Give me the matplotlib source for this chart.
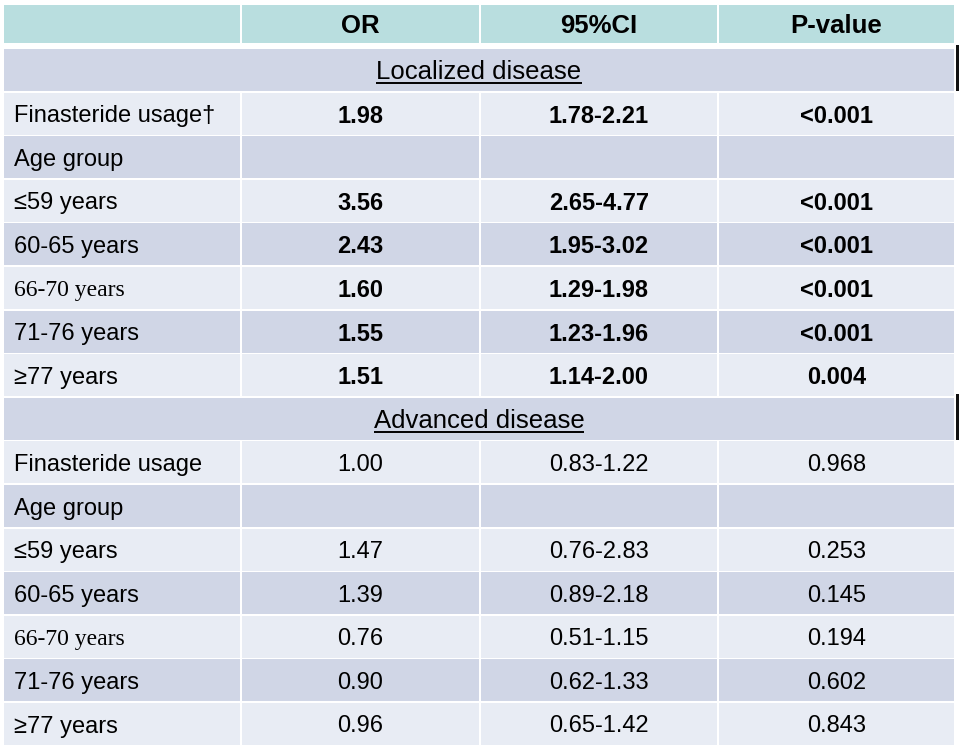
import matplotlib
matplotlib.use("Agg")
import matplotlib.pyplot as plt
from matplotlib.patches import Rectangle

# ---- data ----
headers = ["", "OR", "95%CI", "P-value"]
sections = ["Localized disease", "Advanced disease"]
row_labels = ["Finasteride usage\u2020", "Age group", "\u226459 years", "60-65 years",
              "66-70 years", "71-76 years", "\u226577 years"]
row_labels_adv = ["Finasteride usage", "Age group", "\u226459 years", "60-65 years",
                  "66-70 years", "71-76 years", "\u226577 years"]
or_loc = ["1.98", "", "3.56", "2.43", "1.60", "1.55", "1.51"]
ci_loc = ["1.78-2.21", "", "2.65-4.77", "1.95-3.02", "1.29-1.98", "1.23-1.96", "1.14-2.00"]
p_loc = ["<0.001", "", "<0.001", "<0.001", "<0.001", "<0.001", "0.004"]
or_adv = ["1.00", "", "1.47", "1.39", "0.76", "0.90", "0.96"]
ci_adv = ["0.83-1.22", "", "0.76-2.83", "0.89-2.18", "0.51-1.15", "0.62-1.33", "0.65-1.42"]
p_adv = ["0.968", "", "0.253", "0.145", "0.194", "0.602", "0.843"]
serif_labels = ["66-70 years"]

# ---- style ----
HEADER_C = "#B9DEDF"
DARK_C = "#D0D6E6"
LIGHT_C = "#E8ECF4"
SANS = "Liberation Sans"
SERIF = "Liberation Serif"

fig = plt.figure(figsize=(9.6, 7.48), dpi=100)
ax = fig.add_axes([0, 0, 1, 1])
ax.set_xlim(0, 960)
ax.set_ylim(748, 0)
ax.axis("off")

col_x = [3, 241, 480, 718, 955]
gap = 0.8

def cell(x0, x1, y0, y1, color):
    ax.add_patch(Rectangle((x0 + gap, y0 + gap), x1 - x0 - 2 * gap, y1 - y0 - 2 * gap,
                           facecolor=color, edgecolor="none", zorder=1))

# header
hy0, hy1 = 4, 45.0
for c in range(4):
    cell(col_x[c], col_x[c + 1], hy0, hy1 - 0.8, HEADER_C)
    if headers[c]:
        ax.text((col_x[c] + col_x[c + 1]) / 2, (hy0 + hy1) / 2 + 1.5, headers[c],
                ha="center", va="center", fontsize=18.5, fontweight="bold",
                family=SANS, color="black", zorder=3)

row_h = 43.6
body_top = 48.2
fig.canvas.draw()
renderer = fig.canvas.get_renderer()

def draw_block(start, title, labels, ors, cis, ps, bold):
    y0 = body_top + start * row_h
    y1 = y0 + row_h
    cell(col_x[0], col_x[4], y0, y1, DARK_C)
    t = ax.text((col_x[0] + col_x[4]) / 2, (y0 + y1) / 2 + 2, title, ha="center",
                va="center", fontsize=18.5, family=SANS, color="black", zorder=3)
    bb = t.get_window_extent(renderer=renderer)
    inv = ax.transData.inverted()
    (xa, _), (xb, _) = inv.transform([(bb.x0, bb.y0), (bb.x1, bb.y0)])
    uy = (y0 + y1) / 2 + 13
    ax.plot([xa, xb], [uy, uy], color="black", lw=1.4, zorder=3, solid_capstyle="butt")
    # black bar at right edge
    ax.add_patch(Rectangle((955.5, y0 - 3), 3.5, row_h + 2, facecolor="#111111",
                           edgecolor="none", zorder=4))
    for i, lab in enumerate(labels):
        ry0 = y0 + (i + 1) * row_h
        ry1 = ry0 + row_h
        color = LIGHT_C if i % 2 == 0 else DARK_C
        for c in range(4):
            cell(col_x[c], col_x[c + 1], ry0, ry1, color)
        cy = (ry0 + ry1) / 2 + 2.5
        fam = SERIF if lab in serif_labels else SANS
        ax.text(14, cy, lab, ha="left", va="center", fontsize=17, family=fam,
                color="black", zorder=3)
        for c, v in zip(range(1, 4), (ors[i], cis[i], ps[i])):
            if v:
                ax.text((col_x[c] + col_x[c + 1]) / 2, cy, v, ha="center", va="center",
                        fontsize=17, family=SANS,
                        fontweight="bold" if bold else "normal", color="black", zorder=3)

draw_block(0, sections[0], row_labels, or_loc, ci_loc, p_loc, True)
draw_block(8, sections[1], row_labels_adv, or_adv, ci_adv, p_adv, False)

fig.savefig("out.png", dpi=100, facecolor="white")
